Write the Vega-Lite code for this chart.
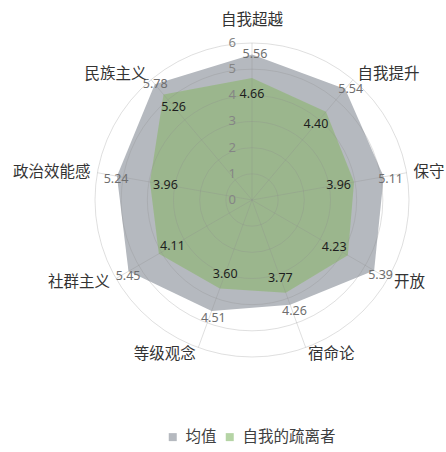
{
  "$schema": "https://vega.github.io/schema/vega-lite/v6.json",
  "width": 446,
  "height": 452,
  "autosize": {"type": "none"},
  "padding": 0,
  "background": "white",
  "config": {"view": {"stroke": null}, "font": "Noto Sans CJK SC"},
  "datasets": {
    "vals": [
      {"cat": "自我超越", "idx": 0, "series": "均值", "value": 5.56},
      {"cat": "自我提升", "idx": 1, "series": "均值", "value": 5.54},
      {"cat": "保守", "idx": 2, "series": "均值", "value": 5.11},
      {"cat": "开放", "idx": 3, "series": "均值", "value": 5.39},
      {"cat": "宿命论", "idx": 4, "series": "均值", "value": 4.26},
      {"cat": "等级观念", "idx": 5, "series": "均值", "value": 4.51},
      {"cat": "社群主义", "idx": 6, "series": "均值", "value": 5.45},
      {"cat": "政治效能感", "idx": 7, "series": "均值", "value": 5.24},
      {"cat": "民族主义", "idx": 8, "series": "均值", "value": 5.78},
      {"cat": "自我超越", "idx": 0, "series": "自我的疏离者", "value": 4.66},
      {"cat": "自我提升", "idx": 1, "series": "自我的疏离者", "value": 4.40},
      {"cat": "保守", "idx": 2, "series": "自我的疏离者", "value": 3.96},
      {"cat": "开放", "idx": 3, "series": "自我的疏离者", "value": 4.23},
      {"cat": "宿命论", "idx": 4, "series": "自我的疏离者", "value": 3.77},
      {"cat": "等级观念", "idx": 5, "series": "自我的疏离者", "value": 3.60},
      {"cat": "社群主义", "idx": 6, "series": "自我的疏离者", "value": 4.11},
      {"cat": "政治效能感", "idx": 7, "series": "自我的疏离者", "value": 3.96},
      {"cat": "民族主义", "idx": 8, "series": "自我的疏离者", "value": 5.26}
    ],
    "rings": [
      {"ring": 0}, {"ring": 1}, {"ring": 2}, {"ring": 3}, {"ring": 4}, {"ring": 5}, {"ring": 6}
    ]
  },
  "layer": [
    {
      "data": {"name": "vals"},
      "transform": [
        {"filter": "datum.series === '均值'"},
        {"calculate": "datum.idx * 40 * PI / 180", "as": "ang"},
        {"calculate": "datum.value * sin(datum.ang)", "as": "px"},
        {"calculate": "datum.value * cos(datum.ang)", "as": "py"}
      ],
      "mark": {"type": "line", "interpolate": "linear-closed", "filled": true, "strokeWidth": 0},
      "encoding": {
        "x": {"field": "px", "type": "quantitative", "scale": {"domain": [-9.6306, 7.414], "nice": false, "zero": false}, "axis": null},
        "y": {"field": "py", "type": "quantitative", "scale": {"domain": [-9.6306, 7.6433], "nice": false, "zero": false}, "axis": null},
        "order": {"field": "idx", "type": "quantitative"},
        "fill": {
          "field": "series", "type": "nominal",
          "scale": {"domain": ["均值", "自我的疏离者"], "range": ["#b5b9bf", "#b5d4a5"]},
          "legend": {
            "title": null, "orient": "none", "legendX": 165, "legendY": 429,
            "direction": "horizontal", "symbolType": "square", "symbolSize": 64,
            "symbolStrokeWidth": 0, "symbolOpacity": 1,
            "labelFontSize": 15.5, "labelFont": "Noto Sans CJK SC", "labelColor": "#404040",
            "labelOffset": 5, "columnPadding": 5, "padding": 0
          }
        }
      }
    },
    {
      "data": {"name": "vals"},
      "transform": [
        {"filter": "datum.series === '自我的疏离者'"},
        {"calculate": "datum.idx * 40 * PI / 180", "as": "ang"},
        {"calculate": "datum.value * sin(datum.ang)", "as": "px"},
        {"calculate": "datum.value * cos(datum.ang)", "as": "py"}
      ],
      "mark": {"type": "line", "interpolate": "linear-closed", "filled": true, "strokeWidth": 0},
      "encoding": {
        "x": {"field": "px", "type": "quantitative", "scale": {"domain": [-9.6306, 7.414], "nice": false, "zero": false}, "axis": null},
        "y": {"field": "py", "type": "quantitative", "scale": {"domain": [-9.6306, 7.6433], "nice": false, "zero": false}, "axis": null},
        "order": {"field": "idx", "type": "quantitative"},
        "fill": {"field": "series", "type": "nominal"}
      }
    },
    {
      "data": {"name": "vals"},
      "transform": [
        {"filter": "datum.series === '自我的疏离者'"},
        {"calculate": "datum.idx * 40 * PI / 180", "as": "ang"},
        {"calculate": "datum.value * sin(datum.ang)", "as": "px"},
        {"calculate": "datum.value * cos(datum.ang)", "as": "py"}
      ],
      "mark": {"type": "line", "interpolate": "linear-closed", "filled": true, "fill": "#000000", "fillOpacity": 0.14, "strokeWidth": 0},
      "encoding": {
        "x": {"field": "px", "type": "quantitative", "scale": {"domain": [-9.6306, 7.414], "nice": false, "zero": false}, "axis": null},
        "y": {"field": "py", "type": "quantitative", "scale": {"domain": [-9.6306, 7.6433], "nice": false, "zero": false}, "axis": null},
        "order": {"field": "idx", "type": "quantitative"}
      }
    },
    {
      "data": {"name": "rings"},
      "transform": [
        {"filter": "datum.ring > 0"},
        {"calculate": "0", "as": "cx"},
        {"calculate": "0", "as": "cy"}
      ],
      "mark": {"type": "point", "shape": "circle", "filled": false, "stroke": "#8c8c8c", "strokeOpacity": 0.28, "strokeWidth": 1, "opacity": 1},
      "encoding": {
        "x": {"field": "cx", "type": "quantitative", "scale": {"domain": [-9.6306, 7.414], "nice": false, "zero": false}, "axis": null},
        "y": {"field": "cy", "type": "quantitative", "scale": {"domain": [-9.6306, 7.6433], "nice": false, "zero": false}, "axis": null},
        "size": {"field": "ring", "type": "quantitative", "scale": {"type": "pow", "exponent": 2, "domain": [0, 6], "range": [0, 98596]}, "legend": null}
      }
    },
    {
      "data": {"name": "vals"},
      "transform": [
        {"filter": "datum.series === '均值'"},
        {"calculate": "datum.idx * 40 * PI / 180", "as": "ang"},
        {"calculate": "0", "as": "cx"},
        {"calculate": "0", "as": "cy"},
        {"calculate": "6 * sin(datum.ang)", "as": "sx"},
        {"calculate": "6 * cos(datum.ang)", "as": "sy"}
      ],
      "mark": {"type": "rule", "stroke": "#8c8c8c", "strokeOpacity": 0.28, "strokeWidth": 1},
      "encoding": {
        "x": {"field": "cx", "type": "quantitative", "scale": {"domain": [-9.6306, 7.414], "nice": false, "zero": false}, "axis": null},
        "y": {"field": "cy", "type": "quantitative", "scale": {"domain": [-9.6306, 7.6433], "nice": false, "zero": false}, "axis": null},
        "x2": {"field": "sx"},
        "y2": {"field": "sy"}
      }
    },
    {
      "data": {"name": "rings"},
      "transform": [{"calculate": "0", "as": "cx"}],
      "mark": {"type": "text", "align": "right", "baseline": "middle", "dx": -16, "font": "Noto Sans", "fontSize": 13, "color": "#858585"},
      "encoding": {
        "x": {"field": "cx", "type": "quantitative", "scale": {"domain": [-9.6306, 7.414], "nice": false, "zero": false}, "axis": null},
        "y": {"field": "ring", "type": "quantitative", "scale": {"domain": [-9.6306, 7.6433], "nice": false, "zero": false}, "axis": null},
        "text": {"field": "ring", "type": "quantitative"}
      }
    },
    {
      "data": {"name": "vals"},
      "transform": [
        {"filter": "datum.series === '均值'"},
        {"calculate": "datum.idx * 40 * PI / 180", "as": "ang"},
        {"calculate": "(datum.value + 0.15) * sin(datum.ang)", "as": "px"},
        {"calculate": "(datum.value + 0.15) * cos(datum.ang)", "as": "py"}
      ],
      "mark": {"type": "text", "align": "center", "baseline": "middle", "dx": 3, "dy": 3, "font": "Noto Sans", "fontSize": 12.5, "color": "#6e6e6e"},
      "encoding": {
        "x": {"field": "px", "type": "quantitative", "scale": {"domain": [-9.6306, 7.414], "nice": false, "zero": false}, "axis": null},
        "y": {"field": "py", "type": "quantitative", "scale": {"domain": [-9.6306, 7.6433], "nice": false, "zero": false}, "axis": null},
        "text": {"field": "value", "type": "quantitative", "format": ".2f"}
      }
    },
    {
      "data": {"name": "vals"},
      "transform": [
        {"filter": "datum.series === '自我的疏离者'"},
        {"calculate": "datum.idx * 40 * PI / 180", "as": "ang"},
        {"calculate": "(datum.value - 0.6) * sin(datum.ang)", "as": "px"},
        {"calculate": "(datum.value - 0.6) * cos(datum.ang)", "as": "py"}
      ],
      "mark": {"type": "text", "align": "center", "baseline": "middle", "font": "Noto Sans", "fontSize": 12.5, "color": "#1e1e1e"},
      "encoding": {
        "x": {"field": "px", "type": "quantitative", "scale": {"domain": [-9.6306, 7.414], "nice": false, "zero": false}, "axis": null},
        "y": {"field": "py", "type": "quantitative", "scale": {"domain": [-9.6306, 7.6433], "nice": false, "zero": false}, "axis": null},
        "text": {"field": "value", "type": "quantitative", "format": ".2f"}
      }
    },
    {
      "data": {"name": "vals"},
      "transform": [
        {"filter": "datum.series === '均值' && datum.idx === 0"},
        {"calculate": "0", "as": "px"},
        {"calculate": "6.88", "as": "py"}
      ],
      "mark": {"type": "text", "align": "center", "baseline": "middle", "fontSize": 15.5, "color": "#333333"},
      "encoding": {
        "x": {"field": "px", "type": "quantitative", "scale": {"domain": [-9.6306, 7.414], "nice": false, "zero": false}, "axis": null},
        "y": {"field": "py", "type": "quantitative", "scale": {"domain": [-9.6306, 7.6433], "nice": false, "zero": false}, "axis": null},
        "text": {"field": "cat", "type": "nominal"}
      }
    },
    {
      "data": {"name": "vals"},
      "transform": [
        {"filter": "datum.series === '均值' && datum.idx >= 1 && datum.idx <= 4"},
        {"calculate": "datum.idx * 40 * PI / 180", "as": "ang"},
        {"calculate": "6.27 * sin(datum.ang)", "as": "px"},
        {"calculate": "6.27 * cos(datum.ang)", "as": "py"}
      ],
      "mark": {"type": "text", "align": "left", "baseline": "middle", "fontSize": 15.5, "color": "#333333"},
      "encoding": {
        "x": {"field": "px", "type": "quantitative", "scale": {"domain": [-9.6306, 7.414], "nice": false, "zero": false}, "axis": null},
        "y": {"field": "py", "type": "quantitative", "scale": {"domain": [-9.6306, 7.6433], "nice": false, "zero": false}, "axis": null},
        "text": {"field": "cat", "type": "nominal"}
      }
    },
    {
      "data": {"name": "vals"},
      "transform": [
        {"filter": "datum.series === '均值' && datum.idx >= 5"},
        {"calculate": "datum.idx * 40 * PI / 180", "as": "ang"},
        {"calculate": "6.27 * sin(datum.ang)", "as": "px"},
        {"calculate": "6.27 * cos(datum.ang)", "as": "py"}
      ],
      "mark": {"type": "text", "align": "right", "baseline": "middle", "fontSize": 15.5, "color": "#333333"},
      "encoding": {
        "x": {"field": "px", "type": "quantitative", "scale": {"domain": [-9.6306, 7.414], "nice": false, "zero": false}, "axis": null},
        "y": {"field": "py", "type": "quantitative", "scale": {"domain": [-9.6306, 7.6433], "nice": false, "zero": false}, "axis": null},
        "text": {"field": "cat", "type": "nominal"}
      }
    }
  ]
}
